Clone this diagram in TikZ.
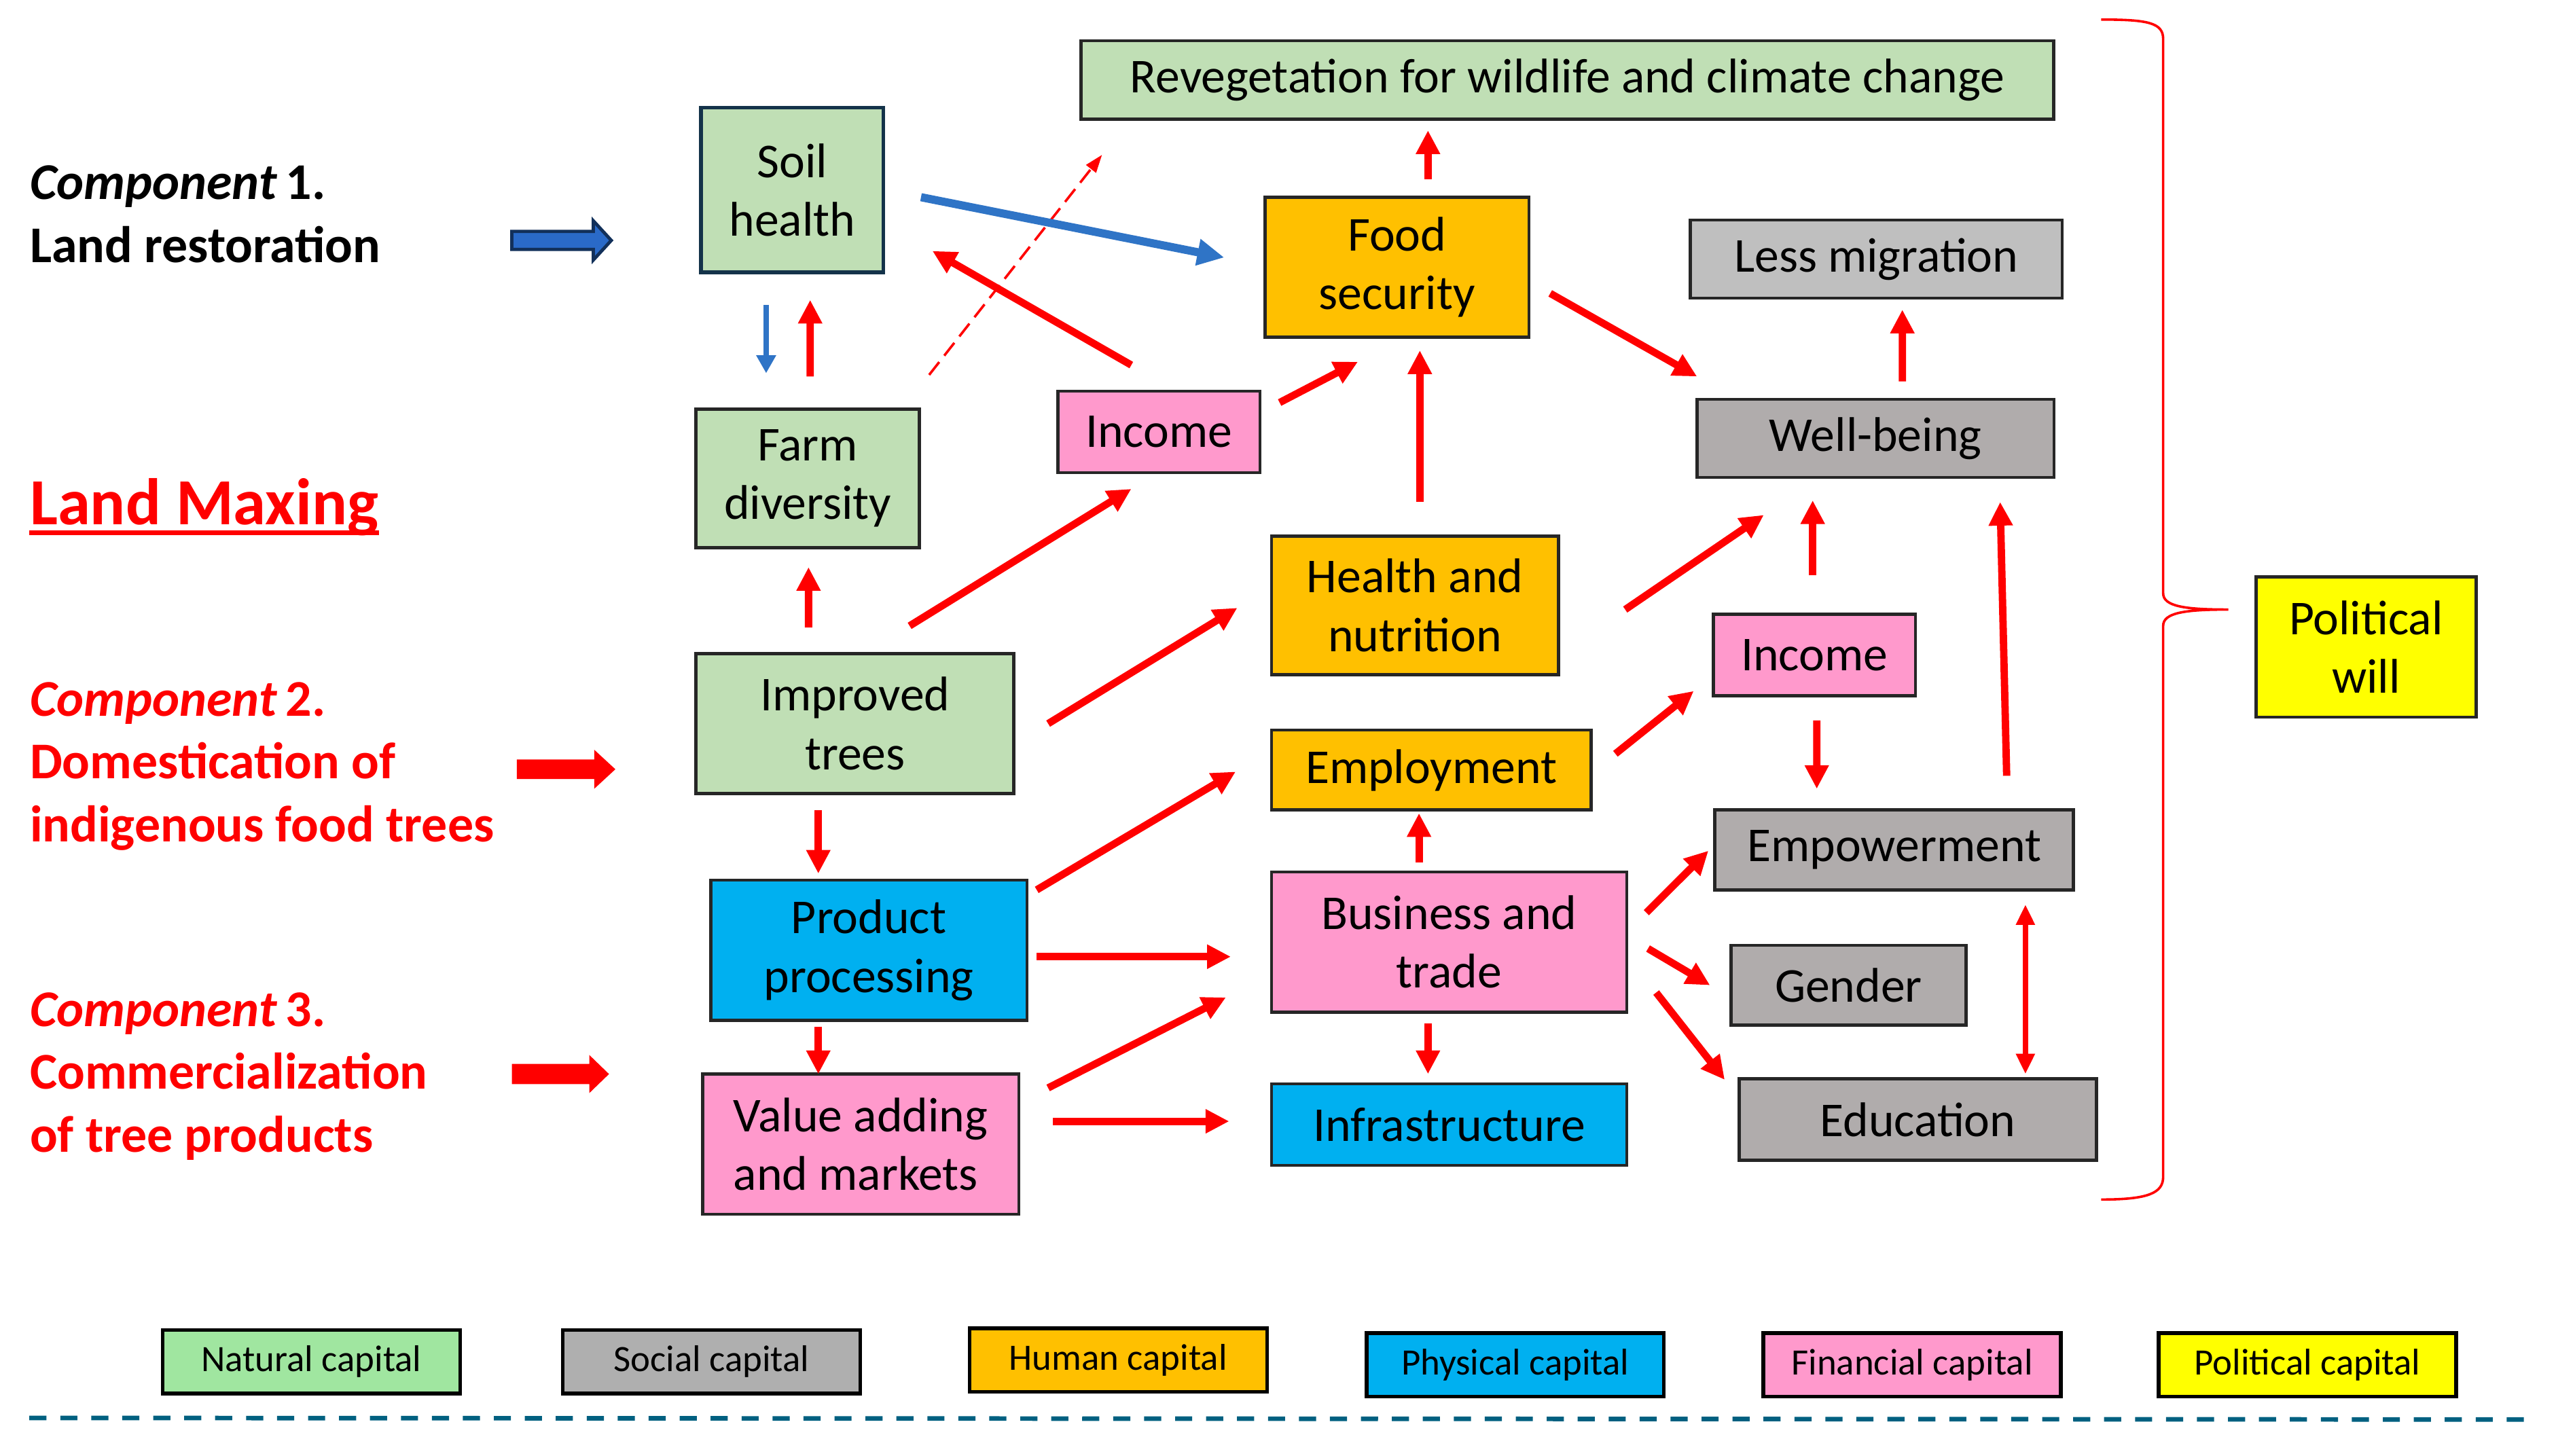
\documentclass[tikz,border=0pt]{standalone}
\usepackage{fontspec}
\setmainfont{Carlito}
\usetikzlibrary{arrows.meta,calc}
\definecolor{natg}{HTML}{C0DFB5}
\definecolor{lgray}{HTML}{BFBFBF}
\definecolor{dgray}{HTML}{B0ACAC}
\definecolor{humo}{HTML}{FFC000}
\definecolor{phyb}{HTML}{00B0F0}
\definecolor{finp}{HTML}{FF99CC}
\definecolor{poly}{HTML}{FFFF00}
\definecolor{legnat}{HTML}{A0E6A0}
\definecolor{legsoc}{HTML}{AFAFAF}
\definecolor{boxline}{HTML}{262626}
\definecolor{soilline}{HTML}{14334A}
\definecolor{arrblue}{HTML}{2F74C6}
\definecolor{blockblue}{HTML}{2A6AC8}
\definecolor{blocknavy}{HTML}{12305A}
\definecolor{dashteal}{HTML}{006080}
\definecolor{pureRed}{HTML}{FF0000}
\begin{document}
\begin{tikzpicture}[x=0.02cm,y=-0.02cm,
  box/.style={draw=boxline, line width=1.1pt, outer sep=0pt, inner sep=0pt, align=center, text=black, font=\fontsize{17}{20.5}\selectfont},
  legendbox/.style={draw=black, line width=1.3pt, outer sep=0pt, inner sep=0pt, minimum width=3.65cm, minimum height=0.78cm, text=black, font=\fontsize{13}{15}\selectfont},
  lefttext/.style={anchor=base west, inner sep=0pt, align=left, font=\fontsize{18}{22}\selectfont\bfseries},
  rarr/.style={draw=pureRed, line width=0.09cm, -{Triangle[length=0.29cm,width=0.28cm]}},
  rarrtwo/.style={draw=pureRed, line width=0.07cm, {Triangle[length=0.25cm,width=0.22cm]}-{Triangle[length=0.25cm,width=0.22cm]}},
  rdash/.style={draw=pureRed, line width=0.03cm, dash pattern=on 0.2cm off 0.1cm, -{Triangle[length=0.22cm,width=0.15cm]}},
  barrthin/.style={draw=arrblue, line width=0.06cm, -{Triangle[length=0.22cm,width=0.23cm]}},
  barrthick/.style={draw=arrblue, line width=0.1cm, -{Triangle[length=0.33cm,width=0.31cm]}},
  redblock/.style={fill=pureRed},
  blueblock/.style={fill=blockblue, draw=blocknavy, line width=0.04cm, line join=miter}
]
\useasboundingbox (0,0) rectangle (1568,893);

% ---------- nodes ----------
\node[box, fill=natg, minimum width=11.94cm, minimum height=0.96cm] (reveg) at (961.5,49) {Revegetation for wildlife and climate change};
\node[box, fill=natg, draw=soilline, line width=1.3pt, minimum width=2.24cm, minimum height=2.02cm] (soil) at (486,116.5) {Soil\\health};
\node[box, fill=humo, minimum width=3.24cm, minimum height=1.72cm] (food) at (857,164) {Food\\security};
\node[box, fill=lgray, minimum width=4.56cm, minimum height=0.96cm] (lessmig) at (1151,159) {Less migration};
\node[box, fill=natg, minimum width=2.74cm, minimum height=1.70cm] (farm) at (495.5,293.5) {Farm\\diversity};
\node[box, fill=finp, minimum width=2.48cm, minimum height=1.00cm] (inc1) at (711,265) {Income};
\node[box, fill=dgray, minimum width=4.38cm, minimum height=0.96cm] (well) at (1150.5,269) {Well-being};
\node[box, fill=humo, minimum width=3.52cm, minimum height=1.70cm] (health) at (868,371.5) {Health and\\nutrition};
\node[box, fill=finp, minimum width=2.48cm, minimum height=1.00cm] (inc2) at (1113,402) {Income};
\node[box, fill=natg, minimum width=3.90cm, minimum height=1.72cm] (trees) at (524.5,444) {Improved\\trees};
\node[box, fill=humo, minimum width=3.92cm, minimum height=0.98cm] (employ) at (878,472.5) {Employment};
\node[box, fill=phyb, minimum width=3.88cm, minimum height=1.72cm] (proc) at (533,583) {Product\\processing};
\node[box, fill=finp, minimum width=4.36cm, minimum height=1.72cm] (biz) at (889,578) {Business and\\trade};
\node[box, fill=dgray, minimum width=4.40cm, minimum height=0.98cm] (empow) at (1162,521.5) {Empowerment};
\node[box, fill=dgray, minimum width=2.88cm, minimum height=0.98cm] (gender) at (1134,604.5) {Gender};
\node[box, fill=finp, minimum width=3.88cm, minimum height=1.72cm, align=left] (value) at (528,702) {Value adding\\and markets};
\node[box, fill=phyb, minimum width=4.36cm, minimum height=1.00cm] (infra) at (889,690) {Infrastructure};
\node[box, fill=dgray, minimum width=4.38cm, minimum height=1.00cm] (edu) at (1176.5,687) {Education};
\node[box, fill=poly, minimum width=2.70cm, minimum height=1.72cm] (polwill) at (1451.5,397) {Political\\will};

% ---------- left texts (base = last line) ----------
\node[lefttext, text=black] (comp1) at (18,161) {\textit{Component}\,1.\\Land restoration};
\node[lefttext, text=pureRed, font=\fontsize{23}{27}\selectfont\bfseries] (maxing) at (18,322) {Land Maxing};
\draw[pureRed, line width=0.06cm] ($(maxing.base west)+(0,5)$) -- ($(maxing.base east)+(0,5)$);
\node[lefttext, text=pureRed] (comp2) at (18,516.5) {\textit{Component}\,2.\\Domestication of\\indigenous food trees};
\node[lefttext, text=pureRed] (comp3) at (18,707) {\textit{Component}\,3.\\Commercialization\\of tree products};

% ---------- block arrows ----------
\coordinate (ba1) at (314,147.5);
\coordinate (ba2) at (317,472);
\coordinate (ba3) at (314,659);
\filldraw[blueblock, shift={(ba1)}] (0,-5.5) -- (50,-5.5) -- (50,-12) -- (61,0) -- (50,12) -- (50,5.5) -- (0,5.5) -- cycle;
\fill[redblock, shift={(ba2)}] (0,-6) -- (47.5,-6) -- (47.5,-12) -- (60.5,0) -- (47.5,12) -- (47.5,6) -- (0,6) -- cycle;
\fill[redblock, shift={(ba3)}] (0,-6.2) -- (47.5,-6.2) -- (47.5,-11.7) -- (59.6,0) -- (47.5,11.7) -- (47.5,6.2) -- (0,6.2) -- cycle;

% ---------- connectors ----------
\draw[rarr] ($(food.north)+(19,-11)$) -- ($(reveg.south)+(-85.5,7)$);
\draw[barrthin] ($(soil.south)+(-16,20)$) -- ($(farm.north)+(-25.5,-22)$);
\draw[rarr] ($(farm.north)+(1.5,-20)$) -- ($(soil.south)+(11,17)$);
\draw[rdash] ($(farm.north east)+(6,-21)$) -- ($(reveg.south west)+(13,22)$);
\draw[barrthick] ($(soil.east)+(23,4.5)$) -- ($(food.west)+(-25,-6)$);
\draw[rarr] ($(inc1.north)+(-17,-16)$) -- ($(soil.east)+(30,37.5)$);
\draw[rarr] ($(inc1.east)+(12,-18)$) -- ($(food.south)+(-24,15)$);
\draw[rarr] ($(health.north)+(3,-21)$) -- ($(food.south)+(14,8)$);
\draw[rarr] ($(food.east)+(13,16)$) -- ($(well.north west)+(0,-14)$);
\draw[rarr] ($(well.north)+(16.5,-11)$) -- ($(lessmig.south)+(16,7)$);
\draw[rarr] ($(trees.north)+(-28.5,-16)$) -- ($(farm.south)+(0.5,12)$);
\draw[rarr] ($(trees.north)+(33.5,-17)$) -- ($(inc1.south)+(-17,10)$);
\draw[rarr] ($(trees.east)+(21,0)$) -- ($(health.west)+(-21,1.5)$);
\draw[rarr] ($(health.east)+(41,2.5)$) -- ($(well.south)+(-68.5,23)$);
\draw[rarr] ($(inc2.north)+(-1,-24)$) -- ($(well.south)+(-38.5,14)$);
\draw[rarr] ($(empow.north)+(69,-21)$) -- ($(well.south)+(76.5,15)$);
\draw[rarr] ($(employ.east)+(15,-10)$) -- ($(inc2.west)+(-12,22)$);
\draw[rarr] ($(inc2.south)+(1.5,15)$) -- ($(empow.north)+(-47.5,-13)$);
\draw[rarr] ($(trees.south)+(-22.5,10)$) -- ($(proc.north)+(-31,-4)$);
\draw[rarr] ($(proc.north east)+(6,6)$) -- ($(employ.west)+(-22,1)$);
\draw[rarr] ($(proc.east)+(6,4)$) -- ($(biz.west)+(-25,9)$);
\draw[rarr] ($(biz.north)+(-18.5,-6)$) -- ($(employ.south)+(-7.5,2)$);
\draw[rarr] ($(biz.east)+(12,-18)$) -- ($(empow.west)+(-4,0.5)$);
\draw[rarr] ($(biz.east)+(13,4)$) -- ($(gender.west)+(-13,0)$);
\draw[rarr] ($(biz.east)+(18,31)$) -- ($(edu.north west)+(-9,0.5)$);
\draw[rarrtwo] ($(empow.south)+(80.5,9)$) -- ($(edu.north)+(66,-3)$);
\draw[rarr] ($(proc.south)+(-31,4)$) -- ($(value.north)+(-26,0)$);
\draw[rarr] ($(value.north east)+(18,8.5)$) -- ($(biz.west)+(-28,34)$);
\draw[rarr] ($(value.east)+(21,-14)$) -- ($(infra.west)+(-26,-2)$);
\draw[rarr] ($(biz.south)+(-13,7)$) -- ($(infra.north)+(-13,-6)$);

% ---------- brace to Political will ----------
\draw[pureRed, line width=0.03cm] (1289,12) .. controls (1318,12) and (1327,14) .. (1327,24) -- (1327,364) .. controls (1327,372) and (1340,374) .. (1367,374) .. controls (1340,374) and (1327,376) .. (1327,384) -- (1327,722) .. controls (1327,732) and (1318,736) .. (1289,736);

% ---------- legend ----------
\node[legendbox, fill=legnat] (lnat) at (191,835.5) {Natural capital};
\node[legendbox, fill=legsoc] (lsoc) at (436.5,835.5) {Social capital};
\node[legendbox, fill=humo] (lhum) at (686,834.5) {Human capital};
\node[legendbox, fill=phyb] (lphy) at (929.5,837.5) {Physical capital};
\node[legendbox, fill=finp] (lfin) at (1173,837.5) {Financial capital};
\node[legendbox, fill=poly] (lpol) at (1415.5,837.5) {Political capital};

% ---------- dashed rule ----------
\coordinate (dl1) at (18,870);
\coordinate (dl2) at (1551,871);
\draw[dashteal, line width=0.056cm, dash pattern=on 0.21cm off 0.17cm] (dl1) -- (dl2);
\end{tikzpicture}
\end{document}
